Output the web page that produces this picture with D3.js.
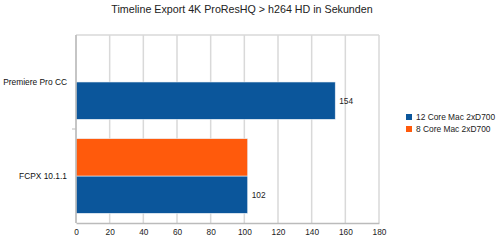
<!DOCTYPE html>
<html>
<head>
<meta charset="utf-8">
<script src="https://cdn.jsdelivr.net/npm/d3@7"></script>
<style>
body{margin:0;background:#fff;}
svg{display:block;font-family:"Liberation Sans",Arial,sans-serif;}
.grid line{stroke:#d9d9d9;stroke-width:1.5;}
.xaxis text{font-size:8.3px;fill:#222;font-family:"Liberation Sans",Arial,sans-serif;}
</style>
</head>
<body>
<svg id="chart" width="500" height="241"></svg>
<script>
/* Data */
const title="Timeline Export 4K ProResHQ > h264 HD in Sekunden";
const categories=["Premiere Pro CC","FCPX 10.1.1"];
const seriesNames=["12 Core Mac 2xD700","8 Core Mac 2xD700"];
const seriesColors=["#0b569b","#ff5a0c"];
const core12=[154,102];
const core8=[null,102];
const xTicks=[0,20,40,60,80,100,120,140,160,180];

const svg=d3.select("#chart");
const m={left:76,right:121,top:35,bottom:18};
const W=500,H=241;

svg.append("text").attr("x",242).attr("y",13).attr("text-anchor","middle")
  .style("font-size","10.7px").style("fill","#222").text(title);

const x=d3.scaleLinear().domain([0,180]).range([m.left,W-m.right]);
const y=d3.scaleBand().domain(categories).range([m.top,H-m.bottom]);
// draw order inside a band: orange slot on top, blue below
const slot=d3.scaleBand().domain([1,0]).range([0,y.bandwidth()]).paddingOuter(0.26);

/* grid */
svg.append("g").attr("class","grid").selectAll("line").data(xTicks).enter().append("line")
  .attr("x1",d=>x(d)).attr("x2",d=>x(d)).attr("y1",m.top).attr("y2",H-m.bottom);
svg.append("line").attr("x1",m.left).attr("x2",W-m.right).attr("y1",m.top).attr("y2",m.top)
  .attr("stroke","#d9d9d9").attr("stroke-width",1.5);

/* bars */
const rows=[];
categories.forEach((c,i)=>{
  [core12,core8].forEach((arr,s)=>{ if(arr[i]!=null) rows.push({cat:c,s:s,v:arr[i]}); });
});
svg.append("g").selectAll("rect").data(rows).enter().append("rect")
  .attr("x",x(0)).attr("y",d=>y(d.cat)+slot(d.s))
  .attr("width",d=>x(d.v)-x(0)).attr("height",slot.bandwidth())
  .attr("fill",d=>seriesColors[d.s]).attr("stroke","#e8eef5").attr("stroke-width",0.6);

/* value labels for 12 core series */
svg.append("g").selectAll("text").data(rows.filter(d=>d.s===0)).enter().append("text")
  .attr("x",d=>x(d.v)+4).attr("y",d=>y(d.cat)+slot(d.s)+slot.bandwidth()/2+3)
  .style("font-size","8.3px").style("fill","#222").text(d=>d.v);

/* axes */
const xa=svg.append("g").attr("class","xaxis").attr("transform",`translate(0,${H-m.bottom})`)
  .call(d3.axisBottom(x).tickValues(xTicks).tickSize(0).tickPadding(6));
xa.select(".domain").attr("stroke","#bbb").attr("stroke-width",1.5);

svg.append("line").attr("x1",m.left).attr("x2",m.left).attr("y1",m.top).attr("y2",H-m.bottom)
  .attr("stroke","#bbb").attr("stroke-width",1.5);
svg.append("line").attr("x1",m.left-4).attr("x2",m.left).attr("y1",y(categories[1])).attr("y2",y(categories[1]))
  .attr("stroke","#bbb").attr("stroke-width",1);

svg.append("g").selectAll("text").data(categories).enter().append("text")
  .attr("x",m.left-9).attr("y",d=>y(d)+y.bandwidth()/2+3).attr("text-anchor","end")
  .style("font-size","8.4px").style("fill","#111").text(d=>d);

/* legend */
const lg=svg.append("g").attr("transform","translate(406,114)");
seriesNames.forEach((n,i)=>{
  const g=lg.append("g").attr("transform",`translate(0,${i*12})`);
  g.append("rect").attr("width",6).attr("height",6).attr("y",0).attr("fill",seriesColors[i]);
  g.append("text").attr("x",10).attr("y",6).style("font-size","8.4px").style("fill","#222").text(n);
});
</script>
</body>
</html>
